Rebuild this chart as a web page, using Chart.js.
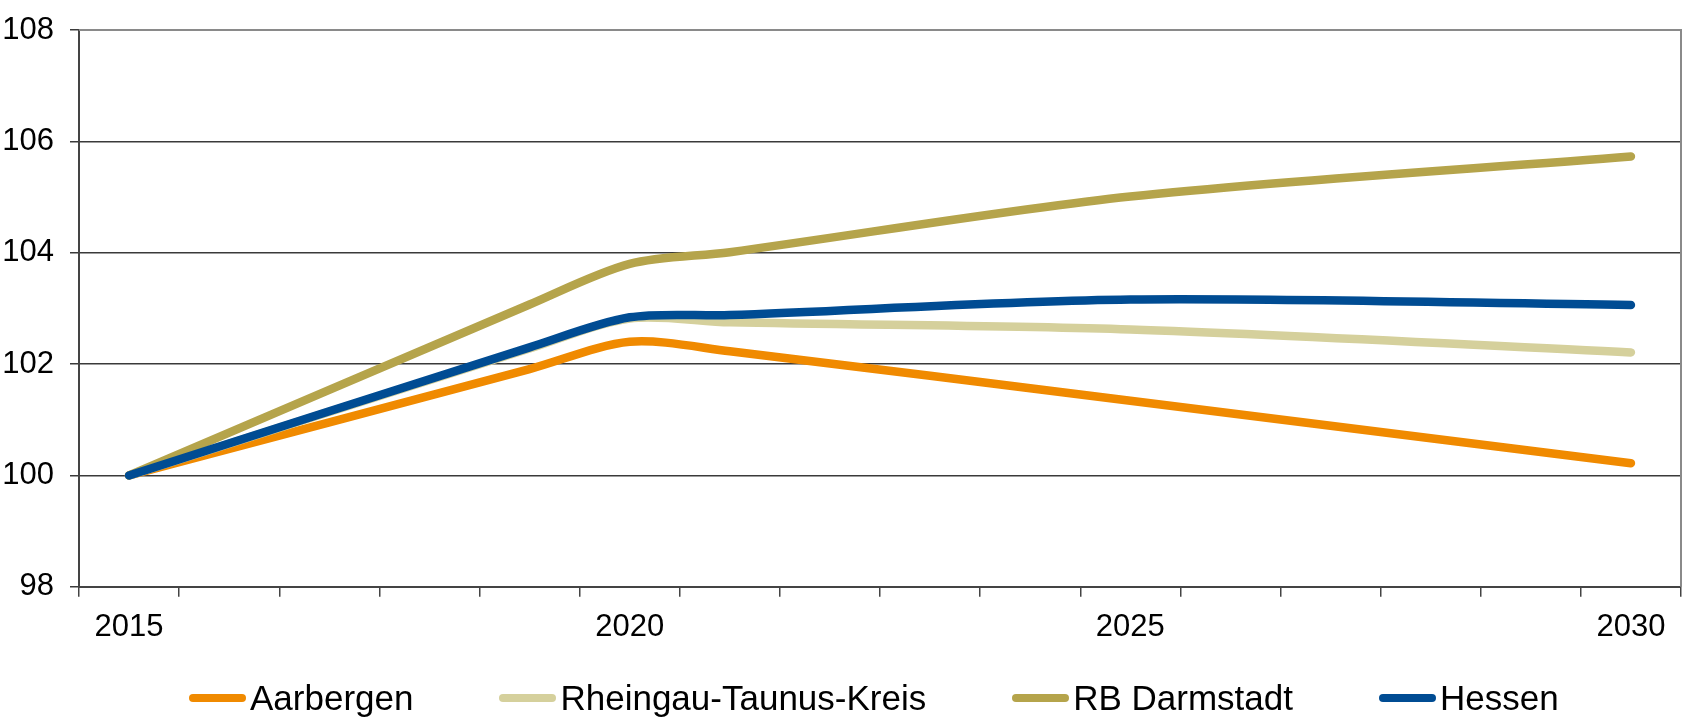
<!DOCTYPE html>
<html lang="de">
<head>
<meta charset="utf-8">
<title>Bevölkerungsentwicklung 2015–2030</title>
<script src="https://cdn.jsdelivr.net/npm/chart.js@4/dist/chart.umd.min.js"></script>
<style>
    html, body {
        margin: 0;
        padding: 0;
        background: #ffffff;
    }

    .chart-wrap {
        position: relative;
        width: 1684px;
        height: 718px;
    }

    .legend {
        position: absolute;
        left: 189px;
        top: 680px;
        display: flex;
        align-items: center;
        gap: 86px;
        font-family: 'Liberation Sans', Arial, sans-serif;
        font-size: 35px;
        line-height: 35px;
        color: #000000;
        white-space: nowrap;
    }

    .legend-item {
        display: flex;
        align-items: center;
    }

    .legend-swatch {
        width: 57px;
        height: 8px;
        border-radius: 4px;
        margin-right: 4px;
    }
</style>
</head>
<body>
<div class="chart-wrap">
    <canvas id="chart"></canvas>
    <div class="legend" id="legend"></div>
</div>
<script>
// Index 2015 = 100
const years = ['2015', '2016', '2017', '2018', '2019', '2020', '2021', '2022',
    '2023', '2024', '2025', '2026', '2027', '2028', '2029', '2030'];
const tickLabels = ['2015', '2020', '2025', '2030'];
const yTicks = [98, 100, 102, 104, 106, 108];

const aarbergen = [100, null, null, null, 101.91, 102.40, 102.23, null,
    null, null, 101.34, null, null, null, null, 100.22];
const rheingauTaunus = [100, null, null, null, 102.28, 102.82, 102.75, null,
    null, null, 102.62, null, null, null, null, 102.21];
const rbDarmstadt = [100, null, null, null, 103.07, 103.80, 104.01, null,
    null, null, 105.01, null, null, null, null, 105.73];
const hessen = [100, null, null, null, 102.30, 102.84, 102.88, null,
    null, null, 103.16, null, null, null, null, 103.06];

const seriesNames = ['Aarbergen', 'Rheingau-Taunus-Kreis', 'RB Darmstadt', 'Hessen'];
const seriesColors = ['#f08a00', '#d5d09c', '#b5a44b', '#004c93'];

const FONT = "'Liberation Sans', Arial, sans-serif";

const frame = {
    id: 'frame',
    beforeDatasetsDraw(chart) {
        const { ctx, chartArea } = chart;
        ctx.save();
        ctx.strokeStyle = '#8a8a8a';
        ctx.lineWidth = 2;
        ctx.beginPath();
        ctx.moveTo(chartArea.left, chartArea.top);
        ctx.lineTo(chartArea.right, chartArea.top);
        ctx.lineTo(chartArea.right, chartArea.bottom);
        ctx.stroke();
        ctx.restore();
    },
};

function buildDataset(values, index) {
    return {
        label: seriesNames[index],
        data: values,
        borderColor: seriesColors[index],
        backgroundColor: seriesColors[index],
        borderWidth: 8.5,
        borderCapStyle: 'round',
        borderJoinStyle: 'round',
        pointRadius: 0,
        pointHoverRadius: 0,
        tension: 0.3,
        spanGaps: true,
        fill: false,
        // Hessen lies on top, as in the original
        order: 3 - index,
    };
}

const chart = new Chart(document.getElementById('chart'), {
    type: 'line',
    data: {
        labels: years,
        datasets: [aarbergen, rheingauTaunus, rbDarmstadt, hessen].map(buildDataset),
    },
    options: {
        responsive: true,
        maintainAspectRatio: false,
        animation: false,
        layout: {
            padding: { top: 30, right: 3, bottom: 60, left: 0 },
        },
        plugins: {
            legend: { display: false },
            tooltip: { enabled: false },
        },
        scales: {
            x: {
                offset: true,
                grid: {
                    offset: true,
                    drawOnChartArea: false,
                    drawTicks: true,
                    tickLength: 10,
                    color: '#444444',
                    lineWidth: 1.5,
                },
                border: { color: '#444444', width: 2 },
                ticks: {
                    autoSkip: false,
                    maxRotation: 0,
                    padding: 12,
                    color: '#000000',
                    font: { family: FONT, size: 31 },
                    callback(value) {
                        const label = this.getLabelForValue(value);
                        return tickLabels.includes(label) ? label : '';
                    },
                },
            },
            y: {
                min: yTicks[0],
                max: yTicks[yTicks.length - 1],
                afterBuildTicks(scale) {
                    scale.ticks = yTicks.map((value) => ({ value }));
                },
                afterFit(scale) {
                    scale.width = 79;
                    // the top label may overhang the plot, as in the original
                    scale.paddingTop = 0;
                    scale.paddingBottom = 0;
                },
                grid: {
                    color: '#3a3a3a',
                    lineWidth: 1.5,
                    tickLength: 9,
                },
                border: { color: '#444444', width: 2 },
                ticks: {
                    padding: 16,
                    color: '#000000',
                    font: { family: FONT, size: 31 },
                },
            },
        },
    },
    plugins: [frame],
});

const legend = document.getElementById('legend');
chart.data.datasets.forEach((dataset) => {
    const item = document.createElement('div');
    item.className = 'legend-item';
    const swatch = document.createElement('span');
    swatch.className = 'legend-swatch';
    swatch.style.background = dataset.borderColor;
    const text = document.createElement('span');
    text.textContent = dataset.label;
    item.append(swatch, text);
    legend.append(item);
});
</script>
</body>
</html>
